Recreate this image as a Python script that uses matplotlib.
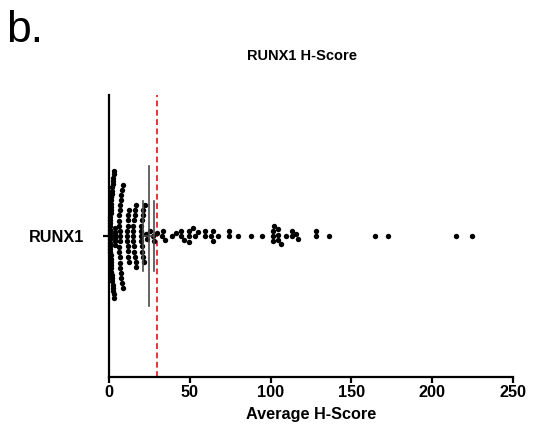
import numpy as np
import matplotlib
matplotlib.use("Agg")
import matplotlib.pyplot as plt

plt.rcParams['font.family'] = ['Liberation Sans', 'DejaVu Sans']

# ---- data ----
category = ["RUNX1"]
h_bracket = [0.5, 0.5, 0.5, 0.5, 0.5, 0.5, 0.5, 0.5, 0.5, 0.5, 0.5, 0.5,
             1, 1, 1, 1, 1, 1, 1.5, 1.5, 1.5, 1.5, 1.5, 1.5,
             2, 2, 2, 2, 2, 2, 2.5, 2.5, 2.5, 2.5, 2.5, 2.5,
             3, 3, 3, 3, 3.5, 3.5, 3.5, 3.5, 4, 4]
h_low = [6, 6, 6, 6, 6, 6.5, 6.5, 6.5, 6.5, 7, 7, 7, 7,
         7.5, 7.5, 7.5, 7.5, 8, 8, 8.5, 8.5,
         11, 11, 11, 11.5, 11.5, 11.5, 12, 12, 12, 12.5, 12.5,
         15, 15, 15, 15, 15.5, 15.5, 15.5, 16, 16, 16, 16.5, 16.5, 17,
         20, 20, 20, 20, 20.5, 20.5, 20.5, 21, 21, 21, 21.5, 22,
         23, 23.5, 25.5, 27, 28]
h_high = [29.7, 32.6, 33.4, 34.7, 39, 41.5, 44.6, 44.6, 46.6, 49.5, 49.5, 49.5,
          52, 53, 55, 59.4, 59.4, 63, 64.4, 64.4, 67.5, 74, 74, 80, 88, 94.7,
          101.5, 101.5, 101.5, 102, 104.6, 104.6, 104.6, 106.4, 109.5, 113, 113,
          116, 117, 128, 128, 136, 164.6, 172.6, 214.7, 224.6]
center_value = 24.8
err_low, err_high = 21.2, 27.8
cutoff = 30
xticks = [0, 50, 100, 150, 200, 250]

# ---- figure ----
W, H = 535, 445
fig = plt.figure(figsize=(W / 100, H / 100), dpi=100)
ax = fig.add_axes([109 / W, 68 / H, 404 / W, 282 / H])
ax.set_xlim(0, 250)
ax.set_ylim(-1, 1)

vals = np.array(h_bracket + h_low + h_high, dtype=float)
# vertical spacing per point (px); horizontal collision width is common
sep_y = np.array([3.25] * len(h_bracket) + [5.2] * (len(h_low) + len(h_high)))
SX = 5.2

xpix = ax.transData.transform(np.column_stack([vals, np.zeros_like(vals)]))[:, 0]
py0 = ax.transData.transform([(0, 0)])[0, 1]
py1 = ax.transData.transform([(0, 1)])[0, 1]
pix_per_y = py1 - py0

# beeswarm layout in pixel space (elliptical collision)
order = np.argsort(vals, kind="stable")
placed = []
yoff = np.zeros_like(vals)
for i in order:
    x, s = xpix[i], sep_y[i]
    cands = [0.0]
    for (xj, yj, sj) in placed:
        dx = abs(x - xj)
        if dx < SX:
            h = min(s, sj) * np.sqrt(1 - (dx / SX) ** 2)
            cands += [yj + h, yj - h]
    cands = sorted(cands, key=lambda c: (round(abs(c), 6), -c))
    for c in cands:
        ok = True
        for (xj, yj, sj) in placed:
            sy = min(s, sj)
            if ((x - xj) / SX) ** 2 + ((c - yj) / sy) ** 2 < 1 - 1e-6:
                ok = False
                break
        if ok:
            yoff[i] = c
            placed.append((x, c, s))
            break

ax.scatter(vals, yoff / pix_per_y, s=15, color="black", linewidths=0, zorder=3,
           clip_on=False)

# summary lines
lc = "#4a4a4a"
ax.plot([center_value, center_value], [-70 / pix_per_y, 70 / pix_per_y], color=lc, lw=1.2, zorder=4)
for v in (err_low, err_high):
    ax.plot([v, v], [-35 / pix_per_y, 35 / pix_per_y], color=lc, lw=1.2, zorder=4)
ax.plot([err_low, err_high], [0, 0], color=lc, lw=1.2, zorder=4)

# cutoff line
ax.axvline(cutoff, color="#e8323c", lw=1.4, ls=(0, (3, 1.8)), zorder=2)

# axes styling
for sp in ("top", "right"):
    ax.spines[sp].set_visible(False)
for sp in ("left", "bottom"):
    ax.spines[sp].set_linewidth(1.6)
ax.set_xticks(xticks)
ax.set_xticklabels([str(t) for t in xticks], fontsize=11.7, fontweight="bold")
ax.set_yticks([0])
ax.set_yticklabels(category, fontsize=11.7, fontweight="bold")
ax.tick_params(axis="x", length=4, width=1.6, pad=1.5)
ax.tick_params(axis="y", length=4, width=1.6, pad=14)
ax.set_xlabel("Average H-Score", fontsize=11.7, fontweight="bold", labelpad=5.5)

fig.text(302 / W, 1 - 59.5 / H, "RUNX1 H-Score", ha="center", va="baseline",
         fontsize=10.5, fontweight="bold")
fig.text(6 / W, 1 - 42 / H, "b.", ha="left", va="baseline", fontsize=32)

fig.savefig("out.png", dpi=100)
